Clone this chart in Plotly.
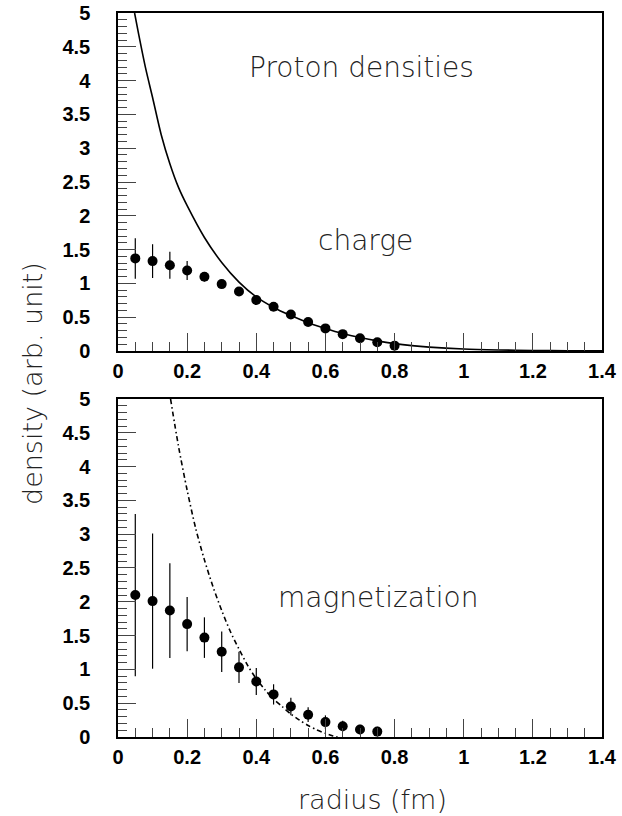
import plotly.graph_objects as go

# ---- data ----
r_points = [0.05, 0.10, 0.15, 0.20, 0.25, 0.30, 0.35, 0.40, 0.45, 0.50,
            0.55, 0.60, 0.65, 0.70, 0.75, 0.80]
charge_vals = [1.37, 1.33, 1.27, 1.19, 1.10, 0.99, 0.88, 0.755, 0.655, 0.54,
               0.43, 0.335, 0.25, 0.19, 0.13, 0.08]
charge_errs = [0.30, 0.25, 0.20, 0.14, 0.07, 0.03, 0.02, 0.02, 0.02, 0.02,
               0.02, 0.02, 0.02, 0.02, 0.02, 0.02]

r_mag = [0.05, 0.10, 0.15, 0.20, 0.25, 0.30, 0.35, 0.40, 0.45, 0.50,
         0.55, 0.60, 0.65, 0.70, 0.75]
mag_vals = [2.10, 2.01, 1.87, 1.67, 1.47, 1.26, 1.03, 0.82, 0.63, 0.45,
            0.33, 0.22, 0.16, 0.11, 0.08]
mag_errs = [1.20, 1.00, 0.70, 0.40, 0.30, 0.30, 0.23, 0.20, 0.15, 0.13,
            0.11, 0.10, 0.08, 0.07, 0.07]

charge_curve_r = [0.048, 0.06, 0.08, 0.10, 0.125, 0.15, 0.175, 0.20, 0.25, 0.30,
                  0.35, 0.40, 0.45, 0.50, 0.55, 0.60, 0.65, 0.70, 0.75, 0.80,
                  0.85, 0.90, 1.00, 1.10, 1.20, 1.30, 1.40]
charge_curve_v = [5.0, 4.68, 4.18, 3.75, 3.20, 2.77, 2.42, 2.15, 1.68, 1.31,
                  1.02, 0.80, 0.645, 0.525, 0.42, 0.335, 0.26, 0.20, 0.15, 0.11,
                  0.08, 0.058, 0.03, 0.016, 0.008, 0.004, 0.002]

mag_curve_r = [0.152, 0.175, 0.20, 0.225, 0.25, 0.275, 0.30, 0.325, 0.35,
               0.375, 0.40, 0.425, 0.45, 0.475, 0.50, 0.525, 0.55, 0.575,
               0.60, 0.62, 0.635]
mag_curve_v = [5.0, 4.3, 3.65, 3.08, 2.62, 2.22, 1.87, 1.56, 1.30,
               1.06, 0.86, 0.70, 0.56, 0.45, 0.34, 0.25, 0.17, 0.105,
               0.055, 0.02, 0.0]

x_ticks = [0, 0.2, 0.4, 0.6, 0.8, 1.0, 1.2, 1.4]
x_tick_text = ["0", "0.2", "0.4", "0.6", "0.8", "1", "1.2", "1.4"]
y_ticks = [0, 0.5, 1, 1.5, 2, 2.5, 3, 3.5, 4, 4.5, 5]
y_tick_text = ["0", "0.5", "1", "1.5", "2", "2.5", "3", "3.5", "4", "4.5", "5"]

# ---- styles ----
TICKFONT = dict(family="Liberation Sans, Arial, sans-serif", size=20,
                color="black", weight="bold")
LABELFONT = dict(family="DejaVu Sans, sans-serif", size=28, color="#222222",
                 weight=200)
TITLEFONT = dict(LABELFONT, size=27)

fig = go.Figure()

fig.add_trace(go.Scatter(x=charge_curve_r, y=charge_curve_v, mode="lines",
                         line=dict(color="black", width=1.6, shape="spline",
                                   smoothing=0.8),
                         xaxis="x", yaxis="y", showlegend=False, hoverinfo="skip"))
fig.add_trace(go.Scatter(x=r_points, y=charge_vals, mode="markers",
                         marker=dict(color="black", size=10),
                         error_y=dict(type="data", array=charge_errs, color="black",
                                      thickness=1.2, width=0),
                         xaxis="x", yaxis="y", showlegend=False))

fig.add_trace(go.Scatter(x=mag_curve_r, y=mag_curve_v, mode="lines",
                         line=dict(color="black", width=1.6, shape="spline",
                                   smoothing=0.8, dash="5px,3px,1.5px,3px"),
                         xaxis="x2", yaxis="y2", showlegend=False, hoverinfo="skip"))
fig.add_trace(go.Scatter(x=r_mag, y=mag_vals, mode="markers",
                         marker=dict(color="black", size=10),
                         error_y=dict(type="data", array=mag_errs, color="black",
                                      thickness=1.2, width=0),
                         xaxis="x2", yaxis="y2", showlegend=False))

xcommon = dict(range=[0, 1.4], tickvals=x_ticks, ticktext=x_tick_text,
               ticks="inside", ticklen=18, tickwidth=1, tickcolor="#444",
               minor=dict(dtick=0.05, tick0=0, ticks="inside", ticklen=9,
                          tickwidth=1, tickcolor="#444", showgrid=False),
               showline=True, linecolor="black", linewidth=1.5, mirror=True,
               showgrid=False, zeroline=False, tickfont=TICKFONT,
               ticklabelstandoff=1, automargin=False)
ycommon = dict(range=[0, 5], tickvals=y_ticks, ticktext=y_tick_text,
               ticks="inside", ticklen=18, tickwidth=1, tickcolor="#444",
               minor=dict(dtick=0.1, tick0=0, ticks="inside", ticklen=9,
                          tickwidth=1, tickcolor="#444", showgrid=False),
               showline=True, linecolor="black", linewidth=1.5, mirror=True,
               showgrid=False, zeroline=False, tickfont=TICKFONT,
               ticklabelstandoff=22, automargin=False)

fig.update_layout(
    width=622, height=816,
    margin=dict(l=118, r=20, t=13, b=79, autoexpand=False),
    paper_bgcolor="white", plot_bgcolor="white",
    xaxis=dict(domain=[0, 1], anchor="y", **xcommon),
    yaxis=dict(domain=[0.5331, 1], anchor="x", **ycommon),
    xaxis2=dict(domain=[0, 1], anchor="y2", **xcommon),
    yaxis2=dict(domain=[0, 0.4669], anchor="x2", **ycommon),
    annotations=[
        dict(text="Proton densities", x=0.703, y=4.19, xref="x", yref="y",
             xanchor="center", yanchor="middle", showarrow=False, font=LABELFONT),
        dict(text="charge", x=0.717, y=1.64, xref="x", yref="y",
             xanchor="center", yanchor="middle", showarrow=False, font=LABELFONT),
        dict(text="magnetization", x=0.752, y=2.07, xref="x2", yref="y2",
             xanchor="center", yanchor="middle", showarrow=False, font=LABELFONT),
        dict(text="radius (fm)", x=(372 - 118) / 484, y=(737 - 799) / 724,
             xref="paper", yref="paper", xanchor="center", yanchor="middle",
             showarrow=False, font=TITLEFONT),
        dict(text="density (arb. unit)", x=(32 - 118) / 484, y=(737 - 384) / 724,
             xref="paper", yref="paper", xanchor="center", yanchor="middle",
             showarrow=False, textangle=-90, font=TITLEFONT),
    ],
)

# remove the default 8px page margin so the figure sits at the window's corner
fig.write_html("out.html",
               config={"displayModeBar": False},
               post_script="document.body.style.margin='0px';")
